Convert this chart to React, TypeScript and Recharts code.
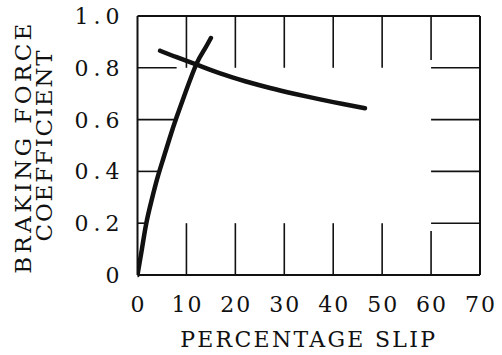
import React from "react";
import {
  LineChart,
  Line,
  XAxis,
  YAxis,
  ReferenceLine,
} from "recharts";

// slip (%) vs braking force coefficient
const risingSlip = [0, 0.9, 1.8, 2.9, 4.0, 5.2, 6.6, 8, 10, 12.1, 13.6, 15];
const risingCoef = [0, 0.1, 0.2, 0.29, 0.37, 0.445, 0.53, 0.61, 0.715, 0.817, 0.868, 0.915];

const fallingSlip = [4.6, 8, 12.1, 16.9, 22, 27.1, 32, 37.3, 42, 46.5];
const fallingCoef = [0.866, 0.841, 0.812, 0.778, 0.748, 0.722, 0.7, 0.678, 0.66, 0.644];

const xTicks = [0, 10, 20, 30, 40, 50, 60, 70];
const yTicks = [0, 0.2, 0.4, 0.6, 0.8, 1.0];

// inner stub marks along the frame
const xStubs = [10, 20, 30, 40, 50, 60];
const yStubs = [0.2, 0.4, 0.6, 0.8];

const rising = risingSlip.map((s, i) => ({ slip: s, coef: risingCoef[i] }));
const falling = fallingSlip.map((s, i) => ({ slip: s, coef: fallingCoef[i] }));

const FONT = "'DejaVu Serif', 'Liberation Serif', serif";
const INK = "#111";

const YTitle = () => (
  <g fontFamily={FONT} fontSize={23} fill={INK}>
    <text
      x={31}
      y={147}
      textAnchor="middle"
      letterSpacing={3.4}
      transform="rotate(-90 31 147)"
    >
      BRAKING FORCE
    </text>
    <text
      x={52}
      y={145}
      textAnchor="middle"
      letterSpacing={1.8}
      transform="rotate(-90 52 145)"
    >
      COEFFICIENT
    </text>
  </g>
);

const fmtY = (v: number) => (v === 0 ? "0" : v.toFixed(1));

const XTick = (props: any) => {
  const { x, y, payload } = props;
  return (
    <text
      x={x + 1}
      y={y}
      dy="0.71em"
      textAnchor="middle"
      fontFamily={FONT}
      fontSize={22}
      letterSpacing={2}
      fill={INK}
    >
      {payload.value}
    </text>
  );
};

const YTick = (props: any) => {
  const { x, y, payload } = props;
  return (
    <text
      x={x + 5}
      y={y}
      dy="0.36em"
      textAnchor="end"
      fontFamily={FONT}
      fontSize={22}
      letterSpacing={5}
      fill={INK}
    >
      {fmtY(payload.value)}
    </text>
  );
};

export default function App() {
  return (
    <div>
      <style>{`body{margin:0;background:#fff}`}</style>
      <LineChart
        width={502}
        height={355}
        margin={{ top: 16, right: 22, bottom: 0, left: 0 }}
      >
        <XAxis
          type="number"
          dataKey="slip"
          domain={[0, 70]}
          ticks={xTicks}
          allowDataOverflow
          height={80}
          tickLine={false}
          tickSize={0}
          tickMargin={21}
          axisLine={{ stroke: INK, strokeWidth: 2 }}
          tick={<XTick />}
          label={{
            value: "PERCENTAGE SLIP",
            position: "insideBottom",
            offset: 8,
            fill: INK,
            fontFamily: FONT,
            fontSize: 22,
            letterSpacing: 2.3,
          }}
        />
        <YAxis
          type="number"
          dataKey="coef"
          domain={[0, 1]}
          ticks={yTicks}
          width={137.5}
          tickLine={false}
          tickSize={0}
          tickMargin={18}
          axisLine={{ stroke: INK, strokeWidth: 2 }}
          tick={<YTick />}
          label={<YTitle />}
        />
        <ReferenceLine y={1} stroke={INK} strokeWidth={2} />
        <ReferenceLine x={70} stroke={INK} strokeWidth={2} />
        {xStubs.map((x) => (
          <ReferenceLine
            key={`b${x}`}
            segment={[
              { x, y: 0 },
              { x, y: x === 60 ? 0.17 : 0.2 },
            ]}
            stroke={INK}
            strokeWidth={1.6}
          />
        ))}
        {xStubs.map((x) => (
          <ReferenceLine
            key={`t${x}`}
            segment={[
              { x, y: 1 },
              { x, y: x === 60 ? 0.83 : 0.8 },
            ]}
            stroke={INK}
            strokeWidth={1.6}
          />
        ))}
        {yStubs.map((y) => (
          <ReferenceLine
            key={`l${y}`}
            segment={[
              { x: 0, y },
              { x: y === 0.2 ? 1.8 : y === 0.4 ? 4.4 : 8, y },
            ]}
            stroke={INK}
            strokeWidth={1.6}
          />
        ))}
        {yStubs.map((y) => (
          <ReferenceLine
            key={`r${y}`}
            segment={[
              { x: 60, y },
              { x: 70, y },
            ]}
            stroke={INK}
            strokeWidth={1.6}
          />
        ))}
        <Line
          data={rising}
          dataKey="coef"
          type="natural"
          stroke={INK}
          strokeWidth={4.5}
          strokeLinecap="round"
          dot={false}
          isAnimationActive={false}
        />
        <Line
          data={falling}
          dataKey="coef"
          type="natural"
          stroke={INK}
          strokeWidth={4.5}
          strokeLinecap="round"
          dot={false}
          isAnimationActive={false}
        />
      </LineChart>
    </div>
  );
}
